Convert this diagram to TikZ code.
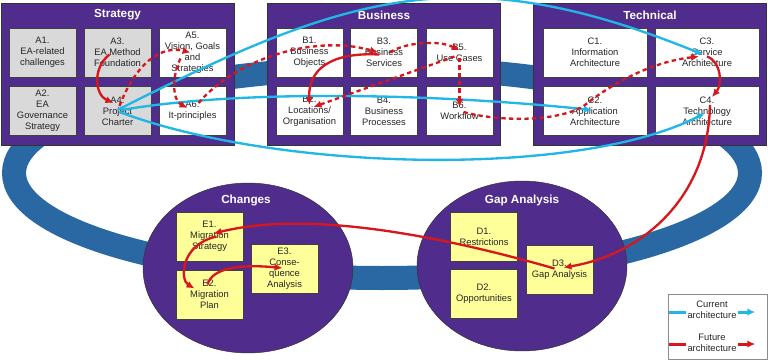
\documentclass[tikz,border=0pt]{standalone}
\usepackage{fontspec}
\setmainfont{Liberation Sans}
\usetikzlibrary{shapes.geometric,arrows.meta,calc}
\definecolor{panelpurple}{RGB}{80,44,140}
\definecolor{ringblue}{RGB}{42,104,164}
\definecolor{curblue}{RGB}{32,182,230}
\definecolor{futred}{RGB}{214,24,30}
\definecolor{boxgrey}{RGB}{217,217,217}
\definecolor{boxyellow}{RGB}{255,255,153}
\tikzset{
  panel/.style={draw=black!80, fill=panelpurple, minimum width=69.9mm, minimum height=42.6mm},
  blob/.style={ellipse, draw=black!80, fill=panelpurple, minimum width=63mm, minimum height=51mm, inner sep=0pt},
  paneltitle/.style={text=white, font=\fontsize{10}{12}\selectfont\bfseries},
  abox/.style={draw=black!75, fill=white, minimum width=20.1mm, minimum height=14.7mm, inner sep=0.5pt, align=center, text=black!85, font=\fontsize{8}{9.4}\selectfont},
  widebox/.style={abox, minimum width=31.2mm},
  greybox/.style={abox, fill=boxgrey},
  yellowbox/.style={abox, fill=boxyellow},
  legtext/.style={align=center, inner sep=0.5pt, text=black!85, font=\fontsize{8}{9.4}\selectfont},
  curline/.style={draw=curblue, line width=0.7mm, -{Latex[length=2.4mm,width=2.2mm]}},
  futline/.style={draw=futred, line width=0.7mm, -{Latex[length=2.4mm,width=2.2mm]}},
  futdash/.style={futline, dash pattern=on 1.3mm off 1mm},
}
\begin{document}
\begin{tikzpicture}[x=0.3mm,y=-0.3mm]
  \useasboundingbox (0,0) rectangle (768,361);
  \draw[ringblue, line width=7.2mm] (382,173) ellipse [x radius=368, y radius=105];

  \node[panel] (strategy) at (117.5,74) {};
  \node[panel] (business) at (384,74) {};
  \node[panel] (technical) at (650,74) {};
  \node[paneltitle] (strategyt) at (117.5,15) {Strategy};
  \node[paneltitle] (businesst) at (384,15) {Business};
  \node[paneltitle] (technicalt) at (650,15) {Technical};

  \node[greybox] (A1) at (42.5,52.5) {A1.\\EA-related\\challenges};
  \node[greybox] (A2) at (42.5,111) {A2.\\EA\\Governance\\Strategy};
  \node[greybox] (A3) at (117.5,52.5) {A3.\\EA Method\\Foundation};
  \node[greybox] (A4) at (117.5,111) {A4.\\Project\\Charter};
  \node[abox] (A5) at (192.5,52.5) {A5.\\Vision, Goals\\and\\Strategies};
  \node[abox] (A6) at (192.5,111) {A6.\\It-principles};

  \node[abox] (B1) at (309.5,52.5) {B1.\\Business\\Objects};
  \node[abox] (B2) at (309.5,111) {B2.\\Locations/\\Organisation};
  \node[abox] (B3) at (384,52.5) {B3.\\Business\\Services};
  \node[abox] (B4) at (384,111) {B4.\\Business\\Processes};
  \node[abox] (B5) at (459.5,52.5) {B5.\\Use Cases};
  \node[abox] (B6) at (459.5,111) {B6.\\Workflow};

  \node[widebox] (C1) at (595,52.5) {C1.\\Information\\Architecture};
  \node[widebox] (C2) at (595,111) {C2.\\Application\\Architecture};
  \node[widebox] (C3) at (707,52.5) {C3.\\Service\\Architecture};
  \node[widebox] (C4) at (707,111) {C4.\\Technology\\Architecture};

  \node[blob] (changes) at (248,268) {};
  \node[blob] (gap) at (522,266) {};
  \node[paneltitle] (changest) at (246,200) {Changes};
  \node[paneltitle] (gapt) at (522,200) {Gap Analysis};

  \node[yellowbox] (E1) at (209.5,236.5) {E1.\\Migration\\Strategy};
  \node[yellowbox] (E2) at (209.5,294.5) {E2.\\Migration\\Plan};
  \node[yellowbox] (E3) at (284.5,269) {E3.\\Conse-\\quence\\Analysis};
  \node[yellowbox] (D1) at (484,236.5) {D1.\\Restrictions};
  \node[yellowbox] (D2) at (484,294) {D2.\\Opportunities};
  \node[yellowbox] (D3) at (559.5,269.5) {D3.\\Gap Analysis};

  \node[draw=black!45, fill=white, minimum width=29.7mm, minimum height=19.5mm] (legend) at (717.5,326.5) {};
  \node[legtext] (curtext) at (712,310) {Current\\architecture};
  \node[legtext] (futtext) at (712,343) {Future\\architecture};
  \draw[curblue, line width=0.9mm] ($(curtext.west)+(-1,2)$) -- ++(-17,0);
  \draw[curline, line width=0.9mm] ($(curtext.east)+(1,2)$) -- ++(17,0);
  \draw[futred, line width=0.9mm] ($(futtext.west)+(-1,1)$) -- ++(-17,0);
  \draw[futline, line width=0.9mm] ($(futtext.east)+(1,1)$) -- ++(17,0);

  \draw[curline] ($(A4)+(0,-1)$) .. controls (348,-7) and (463,-43) .. ($(C3)+(-4,2)$);
  \draw[curline] ($(A4)+(4,-1)$) .. controls (250,88) and (450,95) .. ($(C2)+(-3,-1)$);
  \draw[curline] ($(A4)+(2,1)$) .. controls (280,172) and (580,178) .. ($(C4)+(-2,2)$);

  \draw[futline] ($(A3)+(-8,2)$) .. controls (92,68) and (95,95) .. ($(A4)+(-4,-8)$);
  \draw[futline] ($(B3)+(-5,2)$) .. controls (330,52) and (308,70) .. ($(B2)+(0,-6)$);
  \draw[futline] ($(C3)+(0,4)$) .. controls (722,62) and (722,85) .. ($(C4)+(5,-14)$);
  \draw[futline] ($(C4)+(3,-6)$) .. controls (708,200) and (640,255) .. ($(D3)+(4,-2)$);
  \draw[futline] ($(D3)+(-5,-1)$) .. controls (420,230) and (300,212) .. ($(E1)+(4,-3)$);
  \draw[futline] ($(E1)+(7,0)$) .. controls (180,245) and (180,280) .. ($(E2)+(-15,-6)$);
  \draw[futline] ($(E2)+(-2,-10)$) .. controls (212,268) and (240,264) .. ($(E3)+(-2,-1)$);

  \draw[futdash] ($(A4)+(2,-5)$) .. controls (135,65) and (160,45) .. ($(A5)+(-2,0)$);
  \draw[futdash] ($(A5)+(-12,6)$) .. controls (172,75) and (172,100) .. ($(A6)+(-5,-3)$);
  \draw[futdash] ($(A6)+(6,-8)$) .. controls (240,55) and (320,35) .. ($(B3)+(-6,0)$);
  \draw[futdash] ($(B3)+(6,0)$) .. controls (405,42) and (440,40) .. ($(B5)+(0,-2)$);
  \draw[futdash] ($(B5)+(-5,4)$) -- ($(B2)+(4,-4)$);
  \draw[futdash] ($(B5)+(0,5)$) -- ($(B6)+(0,-4)$);
  \draw[futdash] ($(B6)+(4,1)$) .. controls (500,122) and (560,122) .. (585,105) .. controls (610,85) and (650,62) .. ($(C3)+(-8,4)$);
\end{tikzpicture}
\end{document}
